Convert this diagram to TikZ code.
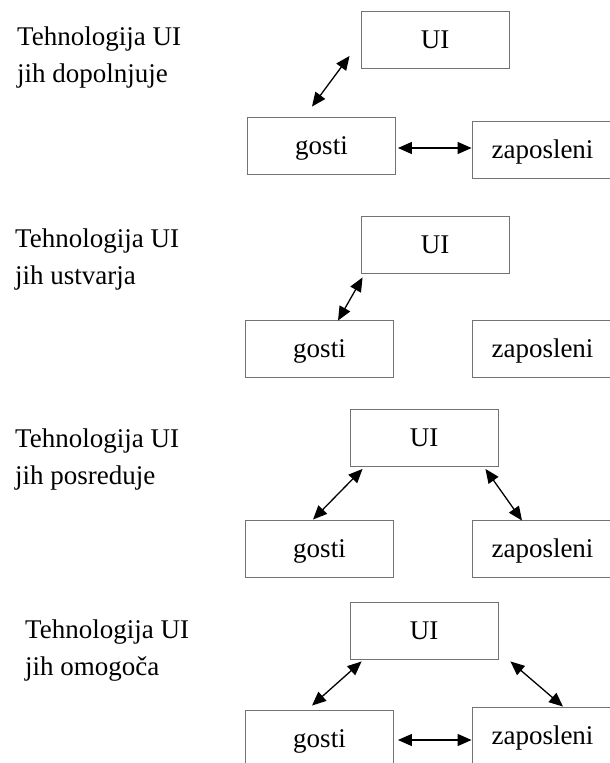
\documentclass[tikz,border=0pt]{standalone}
\usepackage{fontspec}
\setmainfont{Liberation Serif}
\usetikzlibrary{arrows.meta}
\begin{document}
\begin{tikzpicture}[x=1pt,y=-1pt,
  box/.style={draw=black!55, line width=0.9pt, minimum width=148pt, minimum height=57pt, inner sep=0pt, text height=20pt, text depth=3pt, font=\fontsize{27}{32}\selectfont},
  zbox/.style={box, minimum width=141pt},
  lbl/.style={anchor=north west, inner sep=0pt, align=left, font=\fontsize{27}{37}\selectfont},
  arr/.style={{Triangle[length=14pt,width=12pt]}-{Triangle[length=14pt,width=12pt]}, line width=1.3pt}]
\useasboundingbox (0,0) rectangle (610,763);
\clip (0,0) rectangle (610,763);
% panel 1
\node[lbl] (l1) at (17,26.5) {Tehnologija UI\\jih dopolnjuje};
\node[box] (u1) at (435,40) {UI};
\node[box] (g1) at (321.5,145.5) {gosti};
\node[zbox] (z1) at (542.5,150) {zaposleni};
\draw[arr] ([xshift=-9.5pt,yshift=10pt]g1.north) -- ([xshift=-11pt,yshift=13pt]u1.south west);
\draw[arr] ([xshift=2pt,yshift=-2.5pt]g1.east) -- ([yshift=2pt]z1.west);
% panel 2
\node[lbl] (l2) at (15,228.5) {Tehnologija UI\\jih ustvarja};
\node[box] (u2) at (435,244.5) {UI};
\node[box] (g2) at (319.5,348.5) {gosti};
\node[zbox] (z2) at (542.5,348.5) {zaposleni};
\draw[arr] ([xshift=18.5pt,yshift=-1pt]g2.north) -- ([xshift=2pt,yshift=-4pt]u2.south west);
% panel 3
\node[lbl] (l3) at (15,428.5) {Tehnologija UI\\jih posreduje};
\node[box] (u3) at (424,438) {UI};
\node[box] (g3) at (319.5,548.5) {gosti};
\node[zbox] (z3) at (542.5,548.5) {zaposleni};
\draw[arr] ([xshift=-6.5pt]g3.north) -- ([xshift=13pt,yshift=-2pt]u3.south west);
\draw[arr] ([xshift=-13pt,yshift=-2pt]u3.south east) -- ([xshift=-20.5pt,yshift=-1pt]z3.north);
% panel 4
\node[lbl] (l4) at (25,620) {Tehnologija UI\\jih omogoča};
\node[box] (u4) at (424,630.5) {UI};
\node[box] (g4) at (319.5,738.5) {gosti};
\node[zbox] (z4) at (542.5,735.5) {zaposleni};
\draw[arr] ([xshift=-7.5pt,yshift=4pt]g4.north) -- ([xshift=12pt,yshift=-2pt]u4.south west);
\draw[arr] ([xshift=12pt,yshift=-2pt]u4.south east) -- ([xshift=20.5pt]z4.north);
\draw[arr] ([xshift=4pt,yshift=-1.5pt]g4.east) -- ([yshift=-4.5pt]z4.west);
\end{tikzpicture}
\end{document}
